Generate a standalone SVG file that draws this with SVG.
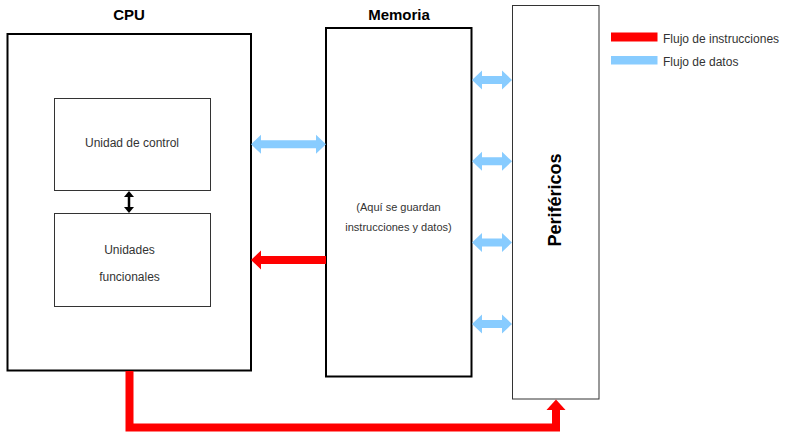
<svg xmlns="http://www.w3.org/2000/svg" width="792" height="432" viewBox="0 0 792 432">
<style>
.big{fill:#fff;stroke:#000;stroke-width:2}
.sm{fill:#fff;stroke:#333;stroke-width:1}
.title{font-family:"Liberation Sans",Arial,sans-serif;font-weight:bold;font-size:15px;fill:#000;text-anchor:middle}
.lbl{font-family:"Liberation Sans",Arial,sans-serif;font-size:12px;fill:#333;text-anchor:middle}
.note{font-family:"Liberation Sans",Arial,sans-serif;font-size:11px;fill:#333;text-anchor:middle}
.leg{font-family:"Liberation Sans",Arial,sans-serif;font-size:12px;fill:#333}
.data{fill:#88CCFF}
.instr{fill:#FF0000}
</style>
<rect width="792" height="432" fill="#fff"/>
<g id="cpu">
<rect class="big" x="7.5" y="34" width="243.5" height="336.5"/>
<text class="title" x="129" y="20">CPU</text>
</g>
<g id="unidad-control">
<rect class="sm" x="54.5" y="98.5" width="156" height="92"/>
<text class="lbl" x="132" y="147">Unidad de control</text>
</g>
<g id="unidades-funcionales">
<rect class="sm" x="54.5" y="213.5" width="156" height="93"/>
<text class="lbl" x="129.5" y="254">Unidades</text>
<text class="lbl" x="129.5" y="281">funcionales</text>
</g>
<g id="memoria">
<rect class="big" x="326" y="28" width="145.5" height="348.5"/>
<text class="title" x="399" y="20">Memoria</text>
<text class="note" x="398.5" y="211">(Aquí se guardan</text>
<text class="note" x="398.5" y="231">instrucciones y datos)</text>
</g>
<g id="perifericos">
<rect class="sm" x="512.5" y="5.5" width="86.5" height="393.5"/>
<text class="title" style="font-size:18px" transform="translate(561,200) rotate(-90)" x="0" y="0">Periféricos</text>
</g>
<g id="legend">
<rect class="instr" x="611" y="32.5" width="46.5" height="9"/>
<text class="leg" x="663" y="42.5">Flujo de instrucciones</text>
<rect class="data" x="611" y="56" width="46.5" height="8.5"/>
<text class="leg" x="663" y="66">Flujo de datos</text>
</g>
<g id="connectors">
<polygon class="data" points="251,144.3 261,134.8 261,140.3 316,140.3 316,134.8 326,144.3 316,153.8 316,148.3 261,148.3 261,153.8"/>
<polygon class="data" points="472,80 482,70.5 482,76 502,76 502,70.5 512,80 502,89.5 502,84 482,84 482,89.5"/>
<polygon class="data" points="472,161.3 482,151.8 482,157.3 502,157.3 502,151.8 512,161.3 502,170.8 502,165.3 482,165.3 482,170.8"/>
<polygon class="data" points="472,242.5 482,233 482,238.5 502,238.5 502,233 512,242.5 502,252 502,246.5 482,246.5 482,252"/>
<polygon class="data" points="472,324 482,314.5 482,320 502,320 502,314.5 512,324 502,333.5 502,328 482,328 482,333.5"/>
<polygon class="instr" points="251,260 261,250.5 261,256 326,256 326,264 261,264 261,269.5"/>
<path d="M129.5,371 V427.5 H556 V409" fill="none" stroke="#FF0000" stroke-width="8" stroke-linejoin="miter"/>
<polygon class="instr" points="546.5,410 556,399.5 565.5,410"/>
<line x1="129" y1="196" x2="129" y2="208" stroke="#000" stroke-width="2.5"/>
<polygon points="129,191 124,197 134,197" fill="#000"/>
<polygon points="129,213 124,207 134,207" fill="#000"/>
</g>
</svg>
